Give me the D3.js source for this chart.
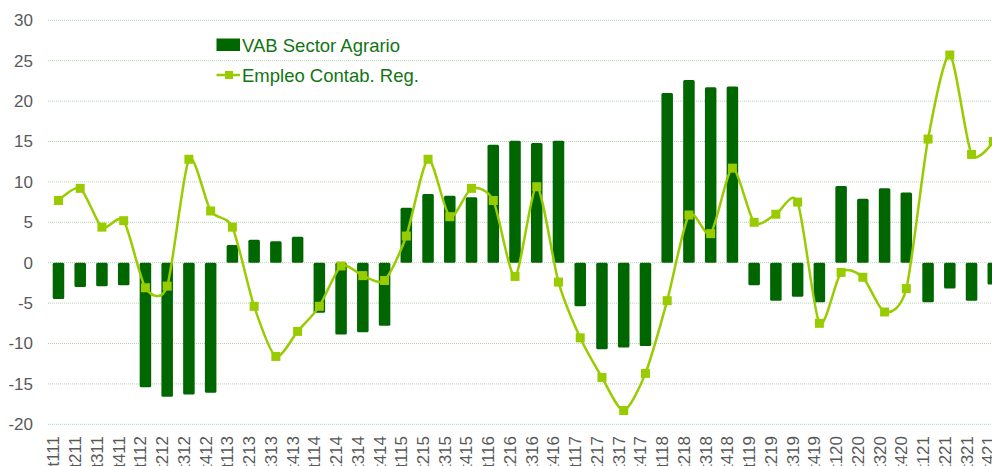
<!DOCTYPE html>
<html><head><meta charset="utf-8">
<script src="https://cdn.jsdelivr.net/npm/d3@7/dist/d3.min.js"></script>
<style>html,body{margin:0;padding:0;background:#fff;overflow:hidden}</style>
</head><body><svg id="c" width="992" height="466"></svg>
<script>
const categories = ["t111","t211","t311","t411","t112","t212","t312","t412","t113","t213","t313","t413","t114","t214","t314","t414","t115","t215","t315","t415","t116","t216","t316","t416","t117","t217","t317","t417","t118","t218","t318","t418","t119","t219","t319","t419","t120","t220","t320","t420","t121","t221","t321","t421"];
const vab = [-4.5,-3.0,-2.9,-2.8,-15.4,-16.6,-16.3,-16.1,2.2,2.85,2.65,3.2,-6.2,-8.9,-8.6,-7.8,6.8,8.5,8.3,8.1,14.6,15.1,14.8,15.1,-5.4,-10.7,-10.5,-10.3,21.0,22.6,21.7,21.8,-2.8,-4.7,-4.2,-4.9,9.5,7.9,9.2,8.7,-4.9,-3.2,-4.7,-2.7];
const empleo = [7.7,9.2,4.4,5.2,-3.1,-2.9,12.8,6.4,4.4,-5.4,-11.6,-8.5,-5.4,-0.4,-1.6,-2.2,3.3,12.8,5.7,9.2,7.7,-1.7,9.4,-2.4,-9.3,-14.2,-18.3,-13.7,-4.7,5.9,3.6,11.7,5.0,6.0,7.5,-7.5,-1.2,-1.8,-6.1,-3.2,15.3,25.7,13.4,15.0];
const yTicks = [-20,-15,-10,-5,0,5,10,15,20,25,30];
const seriesNames = ["VAB Sector Agrario","Empleo Contab. Reg."];

const svg = d3.select("#c");
const left = 47.6, step = 21.74;
const x = d3.scaleBand().domain(categories).range([left, left + step*categories.length]).paddingInner(0.47).paddingOuter(0.235);
const y = d3.scaleLinear().domain([-20,30]).range([424.3, 20.3]);
const font = "Liberation Sans, Arial, sans-serif";

// gridlines
svg.append("g").selectAll("line").data(yTicks).join("line")
  .attr("x1", 48).attr("x2", 992)
  .attr("y1", d=>y(d)).attr("y2", d=>y(d))
  .attr("stroke", "#b4d4b4").attr("stroke-width", 1).attr("stroke-dasharray", "1,1");

// y labels
svg.append("g").selectAll("text").data(yTicks).join("text")
  .attr("x", 33).attr("y", d=>y(d)).attr("dy","0.35em")
  .attr("text-anchor","end").attr("font-family",font).attr("font-size",17)
  .attr("fill","#595959").text(d=>d);

// x labels
svg.append("g").selectAll("text").data(categories).join("text")
  .attr("transform", d=>`translate(${x(d)+x.bandwidth()/2-5},436) rotate(-90)`)
  .attr("dy","0.35em").attr("text-anchor","end")
  .attr("font-family",font).attr("font-size",17).attr("fill","#595959").text(d=>d);

// bars
svg.append("g").selectAll("rect").data(vab).join("rect")
  .attr("x",(d,i)=>x(categories[i]))
  .attr("width", x.bandwidth())
  .attr("y", d=>y(Math.max(0,d)))
  .attr("height", d=>Math.abs(y(d)-y(0)))
  .attr("rx",1.5).attr("fill","#006600");

// line
const cx = i => x(categories[i]) + x.bandwidth()/2;
const line = d3.line().x((d,i)=>cx(i)).y(d=>y(d)).curve(d3.curveCardinal.tension(0.25));
svg.append("path").datum(empleo).attr("d", line)
  .attr("fill","none").attr("stroke","#99cc00").attr("stroke-width",2.5);
svg.append("g").selectAll("rect").data(empleo).join("rect")
  .attr("x",(d,i)=>cx(i)-4.5).attr("y",d=>y(d)-4.5)
  .attr("width",9).attr("height",9).attr("fill","#99cc00");

// legend
const lg = svg.append("g");
lg.append("rect").attr("x",216.5).attr("y",38.5).attr("width",23.5).attr("height",12.5).attr("fill","#006600");
lg.append("text").attr("x",242).attr("y",51.5).attr("font-family",font).attr("font-size",18.5).attr("fill","#127512").text(seriesNames[0]);
lg.append("line").attr("x1",216.5).attr("x2",240).attr("y1",75).attr("y2",75).attr("stroke","#99cc00").attr("stroke-width",2.5);
lg.append("rect").attr("x",225).attr("y",71).attr("width",8).attr("height",8).attr("fill","#99cc00");
lg.append("text").attr("x",242).attr("y",81.5).attr("font-family",font).attr("font-size",18.5).attr("fill","#127512").text(seriesNames[1]);
</script></body></html>
